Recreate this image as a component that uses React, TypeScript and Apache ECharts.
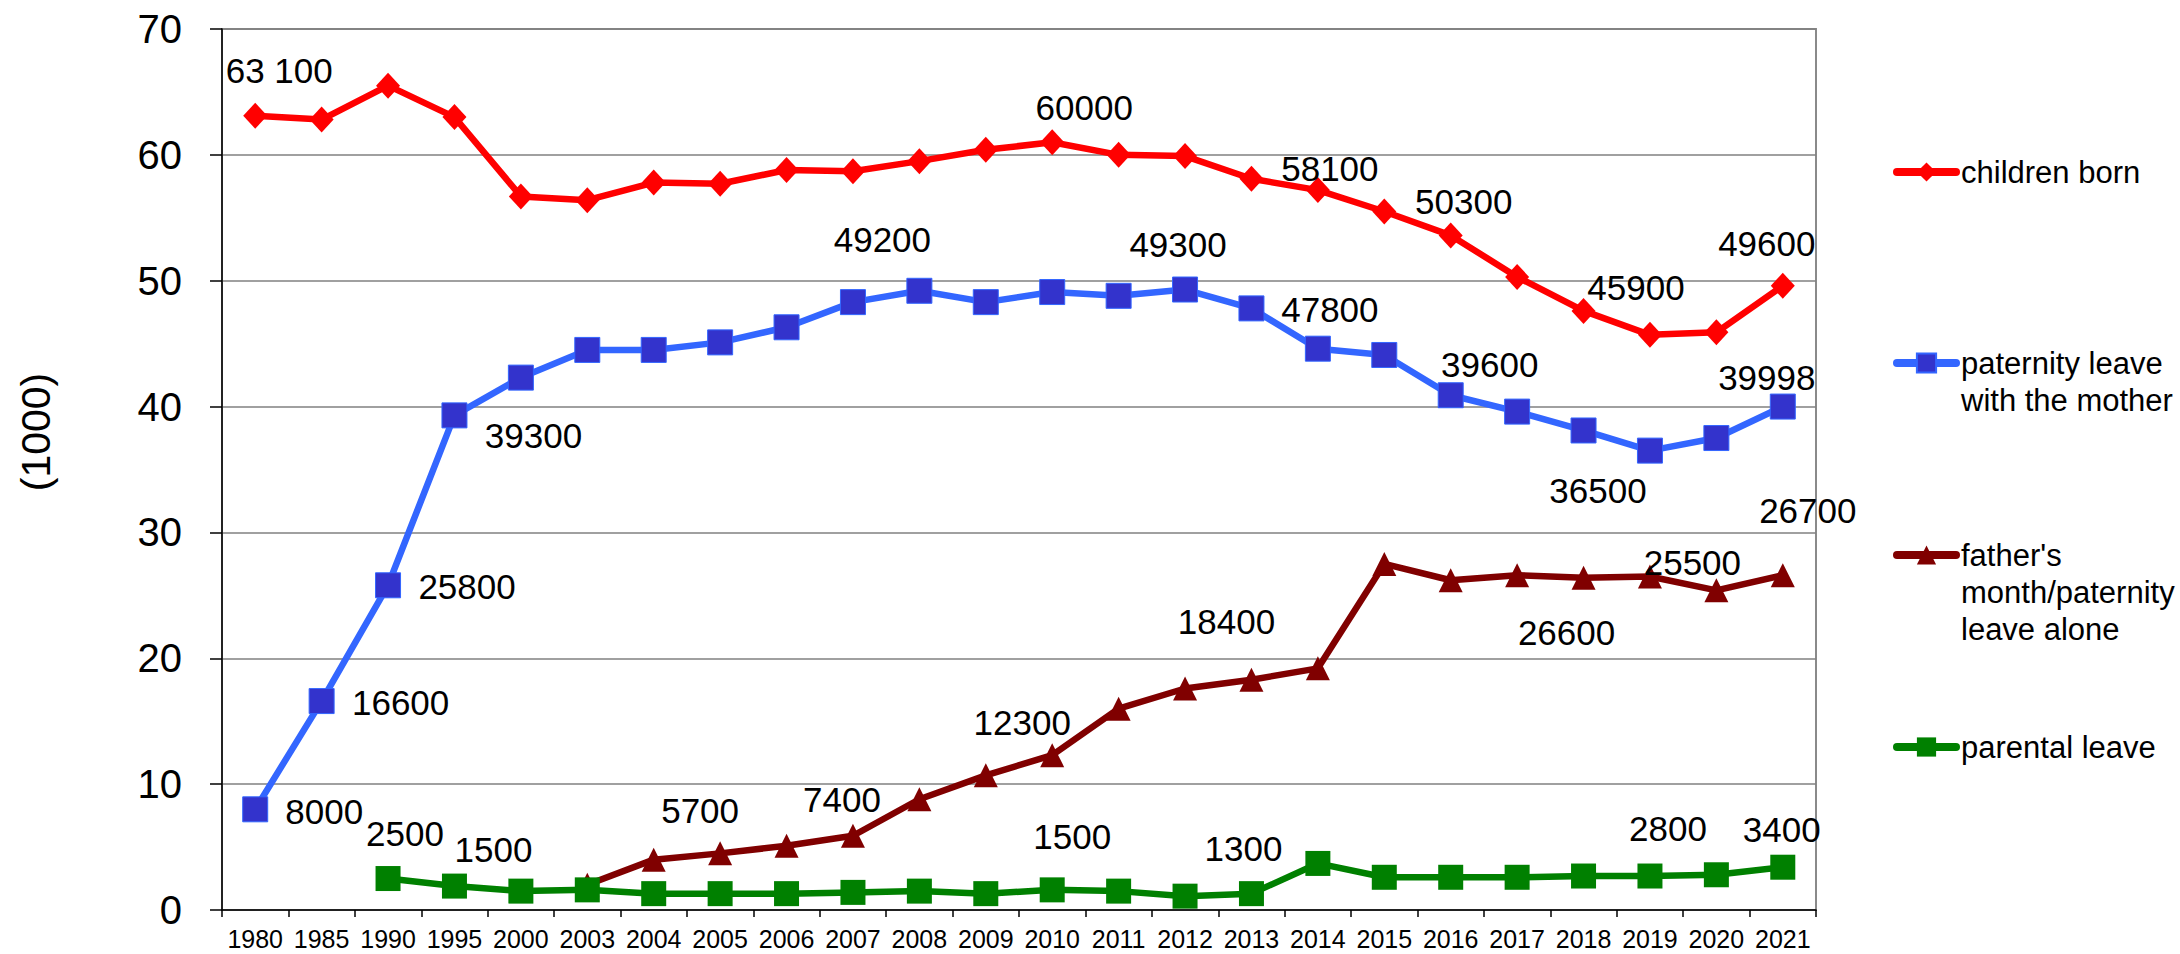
import React, { useEffect, useRef } from "react";
import * as echarts from "echarts";

const years = ["1980", "1985", "1990", "1995", "2000", "2003", "2004", "2005", "2006", "2007", "2008", "2009", "2010", "2011", "2012", "2013", "2014", "2015", "2016", "2017", "2018", "2019", "2020", "2021"];

const seriesNames = ["children born", "paternity leave with the mother", "father's month/paternity leave alone", "parental leave"];
const legendLines = [["children born"], ["paternity leave", "with the mother"], ["father's", "month/paternity", "leave alone"], ["parental leave"]];

const childrenBorn = [63.1, 62.8, 65.5, 63.0, 56.7, 56.4, 57.8, 57.7, 58.8, 58.7, 59.5, 60.4, 61.0, 60.0, 59.9, 58.1, 57.2, 55.5, 53.6, 50.3, 47.6, 45.7, 45.9, 49.6];
const paternityWithMother = [8.0, 16.6, 25.8, 39.3, 42.3, 44.5, 44.5, 45.1, 46.3, 48.3, 49.2, 48.3, 49.1, 48.8, 49.3, 47.8, 44.6, 44.1, 40.9, 39.6, 38.1, 36.5, 37.5, 40.0];
const fathersLeaveAlone = [null, null, null, null, null, 2.0, 4.0, 4.5, 5.1, 5.9, 8.8, 10.7, 12.3, 16.0, 17.6, 18.3, 19.2, 27.5, 26.2, 26.6, 26.4, 26.5, 25.4, 26.6];
const parentalLeave = [null, null, 2.5, 1.9, 1.5, 1.6, 1.3, 1.3, 1.3, 1.4, 1.5, 1.3, 1.6, 1.5, 1.1, 1.3, 3.7, 2.6, 2.6, 2.6, 2.7, 2.7, 2.8, 3.4];

// data label texts (index -> text)
const childrenLabels: Record<number, string> = { 0: "63 100", 12: "60000", 16: "58100", 18: "50300", 21: "45900", 23: "49600" };
const paternityLabels: Record<number, string> = { 0: "8000", 1: "16600", 2: "25800", 3: "39300", 10: "49200", 14: "49300", 16: "47800", 18: "39600", 21: "36500", 23: "39998" };
const fathersLabels: Record<number, string> = { 7: "5700", 9: "7400", 12: "12300", 15: "18400", 20: "26600", 22: "25500", 23: "26700" };
const parentalLabels: Record<number, string> = { 2: "2500", 3: "1500", 12: "1500", 15: "1300", 21: "2800", 23: "3400" };

const yTicks = { min: 0, max: 70, interval: 10 };
const yAxisTitle = "(1000)";

// label offsets (layout only)
const childrenOffsets: Record<number, number[]> = { 0: [24, -45], 12: [32, -35], 16: [12, -22], 18: [13, -34], 21: [-14, -47], 23: [-16, -42] };
const paternityOffsets: Record<number, number[]> = { 0: [69, 2], 1: [79, 1], 2: [79, 1], 3: [79, 20], 10: [-37, -51], 14: [-7, -45], 16: [12, -39], 18: [39, -31], 21: [-52, 40], 23: [-16, -29] };
const fathersOffsets: Record<number, number[]> = { 7: [-20, -43], 9: [-11, -36], 12: [-30, -33], 15: [-25, -58], 20: [-17, 55], 22: [-24, -28], 23: [25, -65] };
const parentalOffsets: Record<number, number[]> = { 2: [17, -45], 3: [39, -37], 12: [20, -53], 15: [-8, -45], 21: [18, -48], 23: [-1, -38] };

const FONT = "'Liberation Sans', Arial, sans-serif";

function buildData(values: (number | null)[], labels: Record<number, string>, offsets: Record<number, number[]>) {
  return values.map((v, i) => {
    if (labels[i] === undefined) return v;
    return {
      value: v,
      label: {
        show: true,
        formatter: labels[i],
        position: "inside",
        offset: offsets[i],
        color: "#000",
        fontSize: 35,
        fontFamily: FONT,
      },
    };
  });
}

export default function App() {
  const ref = useRef<HTMLDivElement>(null);
  useEffect(() => {
    if (!ref.current) return;
    const chart = echarts.init(ref.current, null, { renderer: "svg" });

    const LH = 37;
    const iconCenters = [172, 363, 555, 747];

    const option: any = {
      animation: false,
      backgroundColor: "#fff",
      grid: {
        left: 222,
        right: 364,
        top: 29,
        bottom: 44,
        show: true,
        borderColor: "#8a8a8a",
        borderWidth: 2,
        outerBoundsMode: "none",
      },
      legend: seriesNames.map((name, i) => {
        const lines = legendLines[i];
        const n = lines.length;
        // prepend empty lines so the first text line is level with the icon
        const text = new Array(n - 1).fill("").concat(lines).join("\n");
        const totalLines = 2 * n - 1;
        return {
          data: [name],
          orient: "vertical",
          left: 1893,
          top: iconCenters[i] - (totalLines * LH) / 2,
          padding: 0,
          itemWidth: 59,
          itemHeight: 24,
          selectedMode: false,
          formatter: () => text,
          lineStyle: { width: 8, cap: "round" },
          textStyle: {
            fontSize: 31,
            lineHeight: LH,
            fontFamily: FONT,
            color: "#000",
          },
        };
      }),
      xAxis: {
        type: "category",
        data: years,
        boundaryGap: true,
        axisLine: { lineStyle: { color: "#000", width: 1.5 } },
        axisTick: { show: true, length: 7, interval: 0, lineStyle: { color: "#000", width: 1.5 } },
        axisLabel: { interval: 0, fontSize: 25, fontFamily: FONT, color: "#000", margin: 16 },
      },
      yAxis: {
        type: "value",
        min: yTicks.min,
        max: yTicks.max,
        interval: yTicks.interval,
        axisLine: { show: true, lineStyle: { color: "#000", width: 1.5 } },
        axisTick: { show: true, length: 12, lineStyle: { color: "#000", width: 1.5 } },
        axisLabel: { fontSize: 40, fontFamily: FONT, color: "#000", margin: 40 },
        splitLine: { show: true, lineStyle: { color: "#808080", width: 1.5 } },
      },
      graphic: [
        {
          type: "text",
          x: 36,
          y: 432,
          rotation: Math.PI / 2,
          style: {
            text: yAxisTitle,
            fontSize: 41,
            fontFamily: FONT,
            fill: "#000",
            align: "center",
            verticalAlign: "middle",
          },
        },
      ],
      series: [
        {
          name: seriesNames[0],
          type: "line",
          data: buildData(childrenBorn, childrenLabels, childrenOffsets),
          symbol: "diamond",
          symbolSize: [24, 26],
          showAllSymbol: true,
          lineStyle: { color: "#FF0000", width: 6.5 },
          itemStyle: { color: "#FF0000" },
        },
        {
          name: seriesNames[1],
          type: "line",
          data: buildData(paternityWithMother, paternityLabels, paternityOffsets),
          symbol: "rect",
          symbolSize: 25,
          showAllSymbol: true,
          lineStyle: { color: "#3366FF", width: 6.5 },
          itemStyle: { color: "#3333CC", borderColor: "#3366FF", borderWidth: 1 },
        },
        {
          name: seriesNames[2],
          type: "line",
          data: buildData(fathersLeaveAlone, fathersLabels, fathersOffsets),
          symbol: "triangle",
          symbolSize: 24,
          showAllSymbol: true,
          lineStyle: { color: "#800000", width: 6.5 },
          itemStyle: { color: "#800000" },
        },
        {
          name: seriesNames[3],
          type: "line",
          data: buildData(parentalLeave, parentalLabels, parentalOffsets),
          symbol: "rect",
          symbolSize: 25,
          showAllSymbol: true,
          lineStyle: { color: "#008000", width: 6.5 },
          itemStyle: { color: "#008000" },
        },
      ],
    };
    chart.setOption(option);
    return () => chart.dispose();
  }, []);

  return <div ref={ref} style={{ position: "fixed", left: 0, top: 0, width: 2180, height: 954, background: "#fff" }} />;
}
